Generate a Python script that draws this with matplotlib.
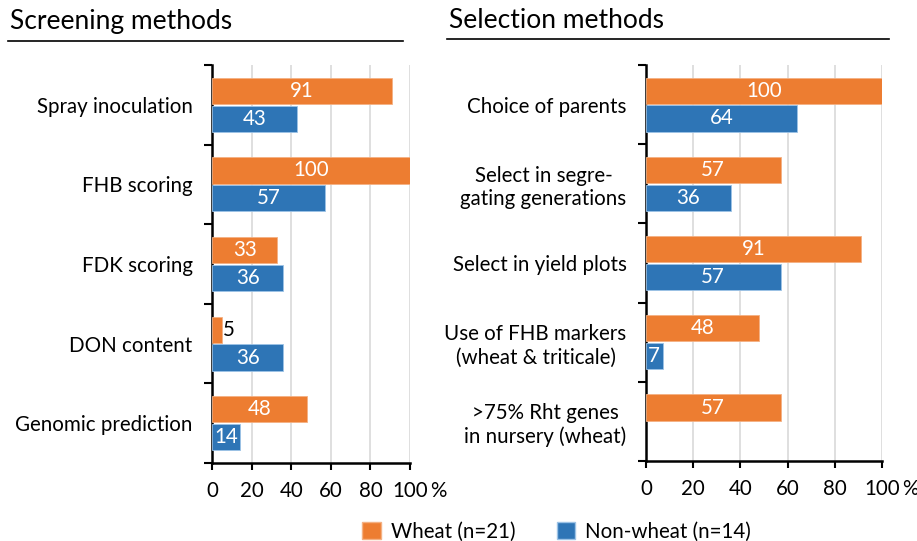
import numpy as np
import matplotlib
matplotlib.use("Agg")
import matplotlib.pyplot as plt
from matplotlib.lines import Line2D
from matplotlib.patches import Patch

plt.rcParams['font.family'] = ['Lato', 'DejaVu Sans']

# data
screen_labels = ['Spray inoculation', 'FHB scoring', 'FDK scoring', 'DON content', 'Genomic prediction']
screen_wheat = [91, 100, 33, 5, 48]
screen_other = [43, 57, 36, 36, 14]

select_labels = ['Choice of parents', 'Select in segre-\ngating generations', 'Select in yield plots',
                 'Use of FHB markers\n(wheat & triticale)', '>75% Rht genes\nin nursery (wheat)']
select_wheat = [100, 57, 91, 48, 57]
select_other = [64, 36, 57, 7, None]

x_ticks = [0, 20, 40, 60, 80, 100]

ORANGE = '#ED7D31'
BLUE = '#2E75B6'
FS = 14.8

fig = plt.figure(figsize=(9.17, 5.41), dpi=100)


def draw_panel(ax, labels, wheat, other):
    n = len(labels)
    y = np.arange(n)
    h = 0.33
    off = 0.175
    for i in range(n):
        if wheat[i] is not None:
            ax.barh(y[i] - off, wheat[i], height=h, color=ORANGE, edgecolor='#F4B183', linewidth=0.6, zorder=3)
            if wheat[i] < 10:
                ax.text(wheat[i] + 0.5, y[i] - off, str(wheat[i]), ha='left', va='center',
                        color='black', fontsize=FS, zorder=4)
            else:
                ax.text(wheat[i] / 2, y[i] - off, str(wheat[i]), ha='center', va='center',
                        color='white', fontsize=FS, zorder=4)
        if other[i] is not None:
            ax.barh(y[i] + off, other[i], height=h, color=BLUE, edgecolor='#9DC3E6', linewidth=0.6, zorder=3)
            ax.text(other[i] / 2, y[i] + off, str(other[i]), ha='center', va='center',
                    color='white', fontsize=FS, zorder=4)
    ax.set_xlim(0, 100)
    ax.set_ylim(n - 0.5, -0.5)
    ax.set_xticks(x_ticks)
    ax.set_xticklabels([str(t) for t in x_ticks], fontsize=FS)
    ax.set_yticks(np.arange(n + 1) - 0.5)
    ax.set_yticklabels([])
    ax.set_yticks(y, minor=True)
    ax.set_yticklabels(labels, minor=True, fontsize=FS, multialignment='center')
    ax.tick_params(axis='y', which='minor', length=0, pad=14)
    ax.tick_params(axis='y', which='major', length=6, width=1.5, direction='out')
    ax.tick_params(axis='x', length=5, width=1.5, direction='out', pad=8)
    ax.grid(axis='x', color='#D9D9D9', linewidth=1.2, zorder=0)
    ax.set_axisbelow(True)
    for s in ['top', 'right']:
        ax.spines[s].set_visible(False)
    for s in ['left', 'bottom']:
        ax.spines[s].set_linewidth(1.8)
    ax.annotate('%', xy=(1, 0), xycoords='axes fraction', xytext=(14.5, -13),
                textcoords='offset points', ha='left', va='top', fontsize=FS)


ax1 = fig.add_axes([0.2312, 0.1442, 0.2159, 0.7357])
draw_panel(ax1, screen_labels, screen_wheat, screen_other)
ax2 = fig.add_axes([0.7045, 0.1479, 0.2573, 0.7320])
draw_panel(ax2, select_labels, select_wheat, select_other)

fig.text(10 / 917, 1 - 21 / 541, 'Screening methods', fontsize=19, va='center', ha='left')
fig.text(449 / 917, 1 - 21 / 541, 'Selection methods', fontsize=19, va='center', ha='left')
fig.add_artist(Line2D([8 / 917, 403 / 917], [1 - 41 / 541, 1 - 41 / 541], color='black', linewidth=1.2))
fig.add_artist(Line2D([447 / 917, 889 / 917], [1 - 39 / 541, 1 - 39 / 541], color='black', linewidth=1.2))

handles = [Patch(facecolor=ORANGE, edgecolor='#F4B183'), Patch(facecolor=BLUE, edgecolor='#9DC3E6')]
fig.legend(handles, ['Wheat (n=21)', 'Non-wheat (n=14)'], ncol=2, loc='lower center',
           bbox_to_anchor=(0.607, -0.035), frameon=False, fontsize=FS,
           handlelength=0.9, handleheight=0.9, columnspacing=2.0, handletextpad=0.5)

fig.savefig('out.png', dpi=100)
